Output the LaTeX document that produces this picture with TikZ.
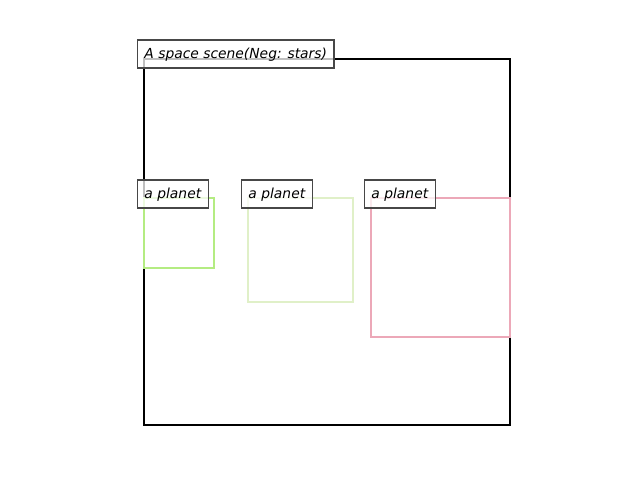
\documentclass[tikz,border=0pt]{standalone}
\usepackage{fontspec}
\setmainfont{DejaVu Sans}
\begin{document}
\begin{tikzpicture}[x=0.01in,y=-0.01in,
  tag/.style={draw=black!72,line width=0.8pt,fill=white,fill opacity=0.75,text opacity=1,
    anchor=west,inner xsep=5pt,inner ysep=0pt,minimum height=20.2pt,
    text height=9.4pt,text depth=2.2pt,
    font=\fontsize{10pt}{12pt}\selectfont\itshape},
  frame/.style={line width=1.5pt}]
\useasboundingbox (0,0) rectangle (640,480);
\definecolor{pgreen}{RGB}{180,236,130}
\definecolor{ppale}{RGB}{224,240,200}
\definecolor{ppink}{RGB}{236,168,184}
% scene and planets
\draw[frame,black] (144,59) rectangle (510,425);
\draw[frame,pgreen] (144,198) rectangle (214,268);
\draw[frame,ppale] (248,198) rectangle (353,302);
\draw[frame,ppink] (371,198) rectangle (510,337);
% captions
\node[tag] (scene) at (137,54) {A space scene(Neg: stars)};
\node[tag] (p1) at (137,194) {a planet};
\node[tag] (p2) at (241,194) {a planet};
\node[tag] (p3) at (364,194) {a planet};
\end{tikzpicture}
\end{document}
